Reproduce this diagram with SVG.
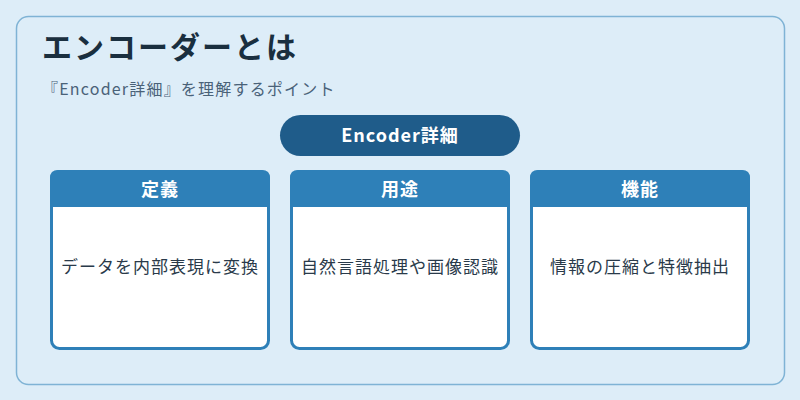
<svg xmlns="http://www.w3.org/2000/svg" width="800" height="400" viewBox="0 0 800 400">
<style>
text{font-family:"Noto Sans CJK JP","Noto Sans",sans-serif}
.card{fill:#ffffff;stroke:#2e80b8;stroke-width:3}
.head{fill:#2e80b8}
.ht{fill:#ffffff;font-size:18px;font-weight:bold;text-anchor:middle;letter-spacing:1px}
.bt{fill:#2a3a4a;font-size:17px;text-anchor:middle;letter-spacing:1px}
</style>
<rect x="0" y="0" width="800" height="400" fill="#ddedf8"/>
<rect x="16.5" y="16.5" width="768" height="368" rx="12" fill="#ddedf8" stroke="#7fb3d5" stroke-width="1.5"/>
<text x="42" y="58" font-size="30" font-weight="bold" fill="#1a2f3f" letter-spacing="2">エンコーダーとは</text>
<text x="42" y="95" font-size="16" fill="#4a6278" letter-spacing="1.2">『Encoder詳細』を理解するポイント</text>
<g id="hub">
<rect x="280" y="115" width="240" height="41" rx="20.5" fill="#1f5c8a"/>
<text x="400" y="142" fill="#ffffff" font-size="18" font-weight="bold" text-anchor="middle" letter-spacing="1">Encoder詳細</text>
</g>
<g id="connectors"></g>
<g id="card-def">
<rect class="card" x="51.5" y="171.5" width="217" height="177" rx="8"/>
<path class="head" d="M50,207 V178 Q50,170 58,170 H262 Q270,170 270,178 V207 Z"/>
<text class="ht" x="160" y="196">定義</text>
<text class="bt" x="160" y="273">データを内部表現に変換</text>
</g>
<g id="card-use">
<rect class="card" x="291.5" y="171.5" width="217" height="177" rx="8"/>
<path class="head" d="M290,207 V178 Q290,170 298,170 H502 Q510,170 510,178 V207 Z"/>
<text class="ht" x="400" y="196">用途</text>
<text class="bt" x="400" y="273">自然言語処理や画像認識</text>
</g>
<g id="card-func">
<rect class="card" x="531.5" y="171.5" width="217" height="177" rx="8"/>
<path class="head" d="M530,207 V178 Q530,170 538,170 H742 Q750,170 750,178 V207 Z"/>
<text class="ht" x="640" y="196">機能</text>
<text class="bt" x="640" y="273">情報の圧縮と特徴抽出</text>
</g>
</svg>
